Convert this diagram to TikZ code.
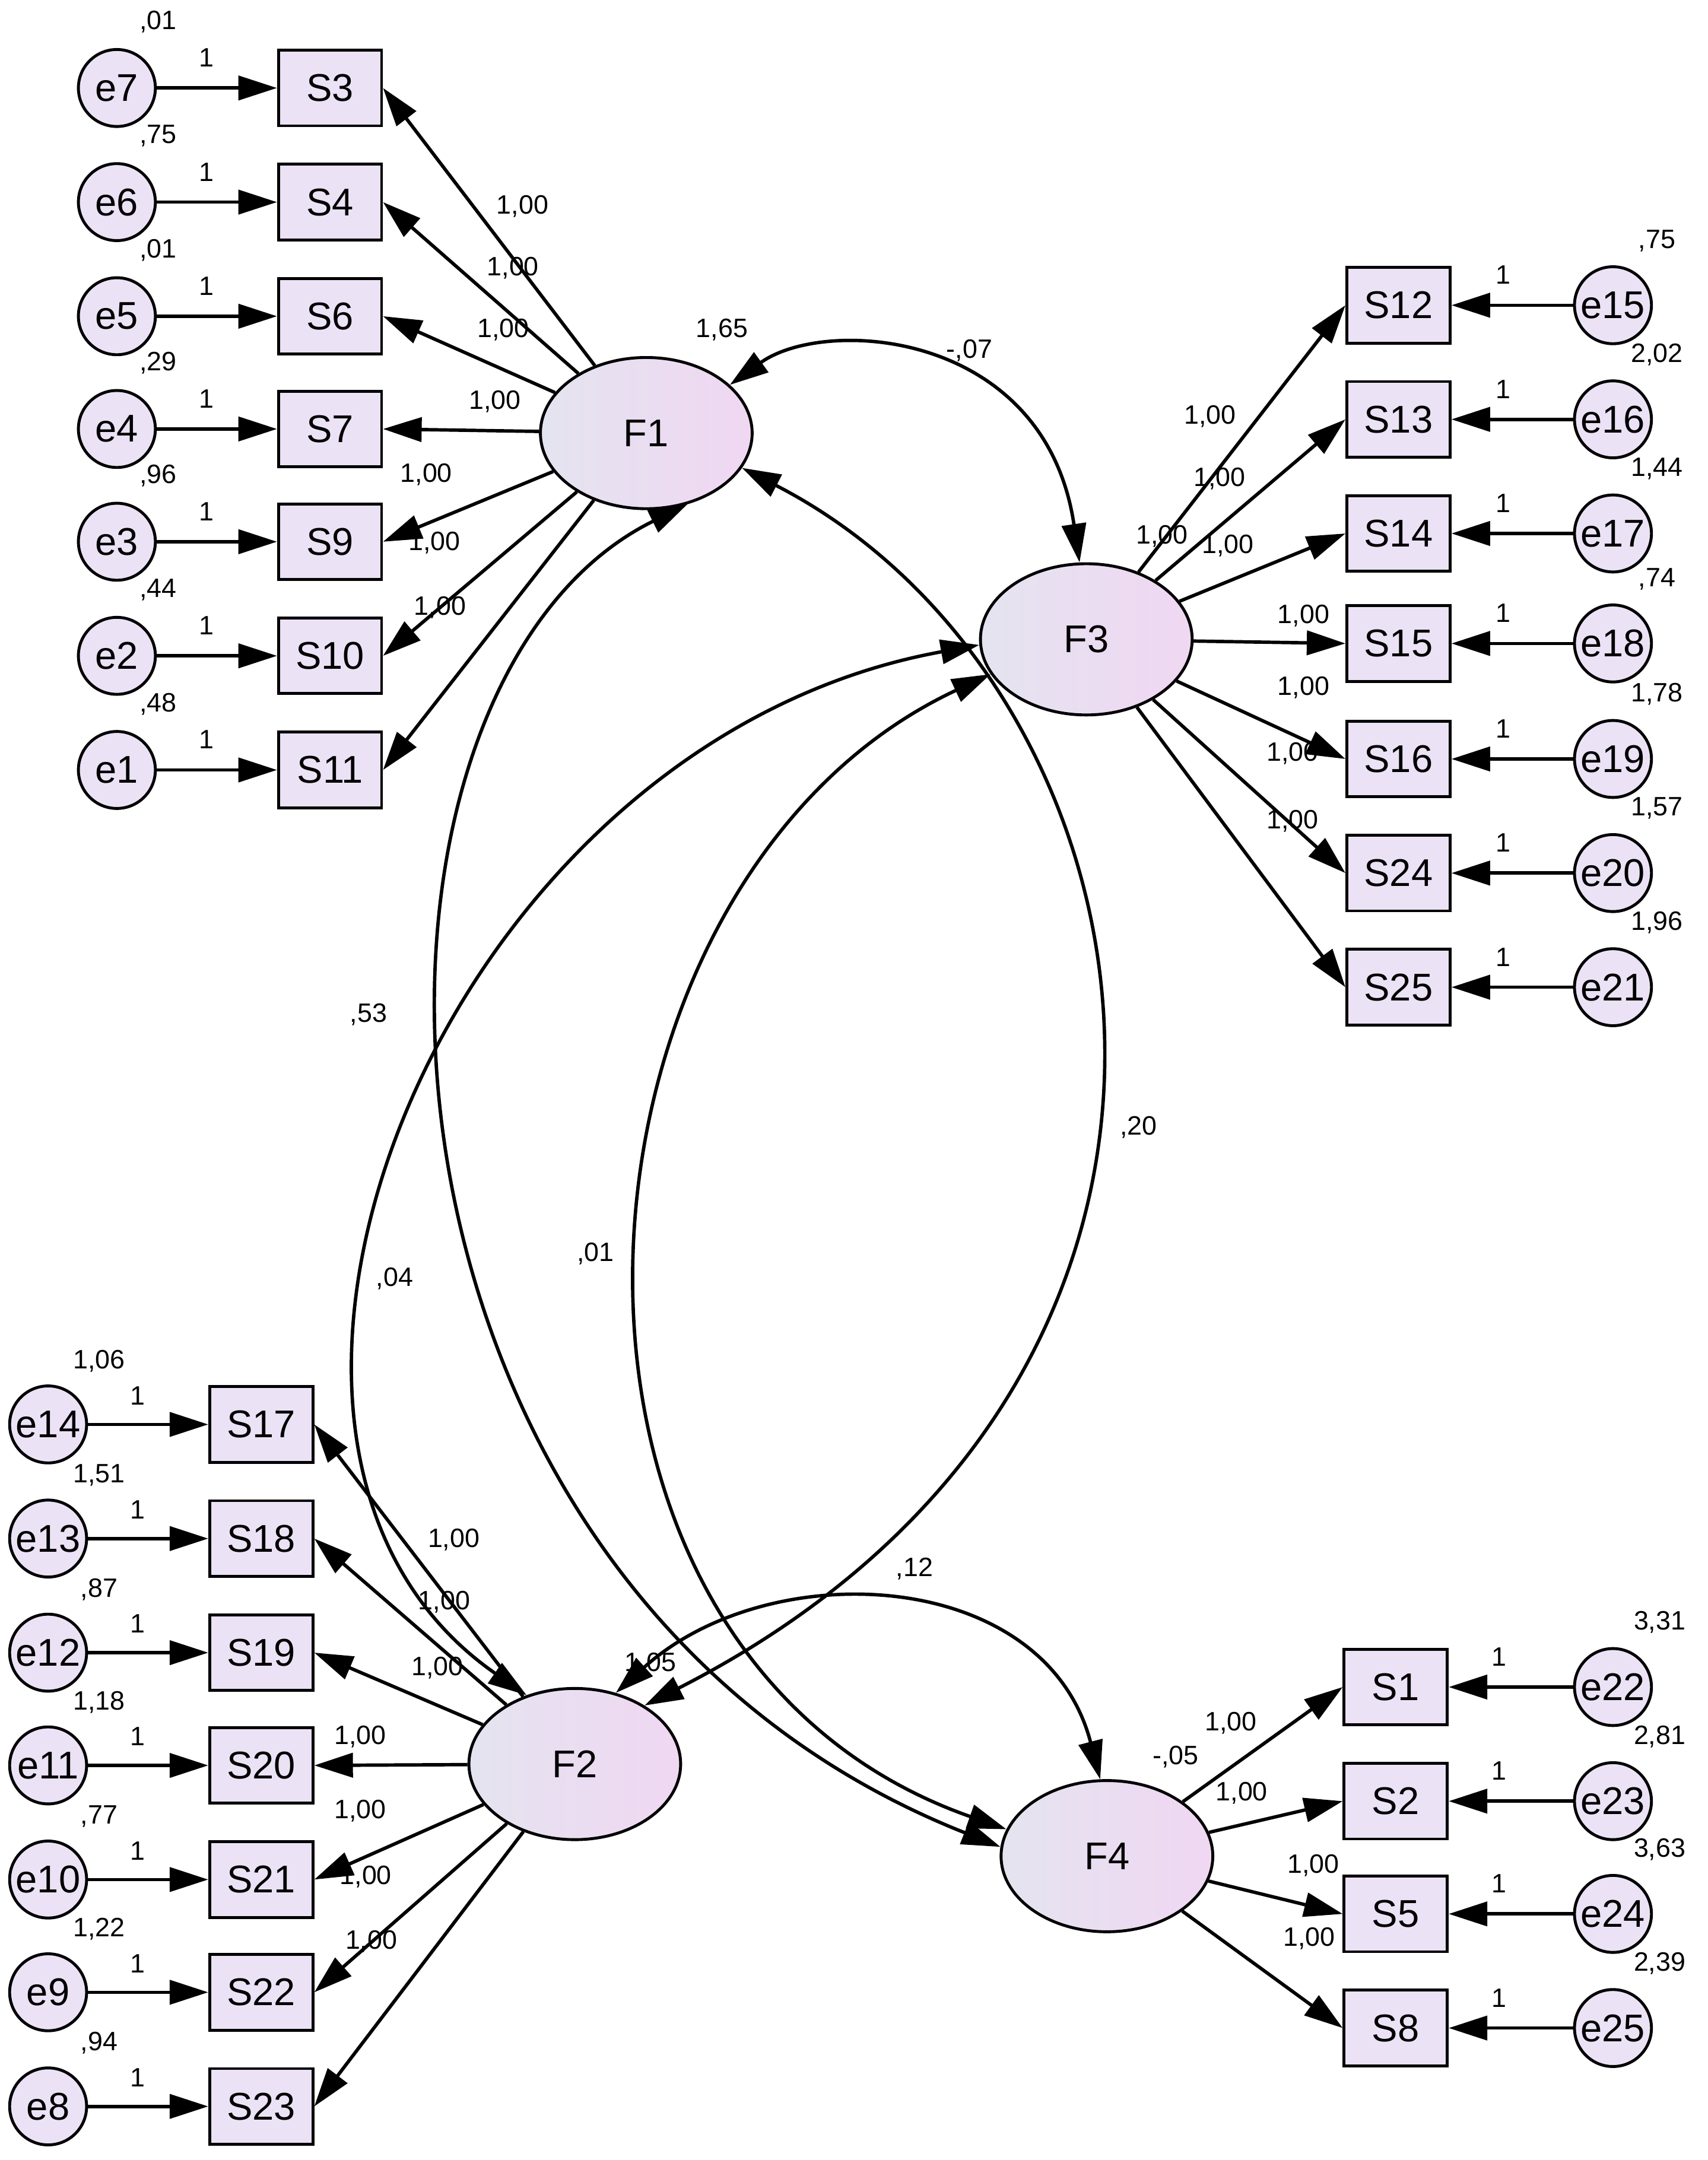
\documentclass[tikz,border=0pt]{standalone}
\usepackage{fontspec}
\setmainfont{Liberation Sans}
\usetikzlibrary{arrows.meta,shapes.geometric}
\begin{document}
\begin{tikzpicture}[x=0.02cm,y=-0.02cm,
  fillc/.style={fill={rgb,255:red,236;green,226;blue,246}},
  obs/.style={draw,line width=1.2pt,fillc,minimum width=1.5cm,minimum height=1.1cm,inner sep=0pt,font=\fontsize{16}{16}\selectfont},
  err/.style={draw,line width=1.2pt,circle,fillc,minimum size=1.12cm,inner sep=0pt,font=\fontsize{16}{16}\selectfont},
  lat/.style={draw,line width=1.2pt,ellipse,left color={rgb,255:red,228;green,228;blue,240},right color={rgb,255:red,240;green,215;blue,242},minimum width=3.08cm,minimum height=2.2cm,font=\fontsize{16}{16}\selectfont},
  lab/.style={font=\fontsize{11}{11}\selectfont,inner sep=0pt},
  arr/.style={line width=1.4pt,-{Triangle[length=16pt,width=10pt]}},
  cov/.style={line width=1.4pt,{Triangle[length=16pt,width=10pt]}-{Triangle[length=16pt,width=10pt]}}]
\useasboundingbox[fill=white] (0,0) rectangle (1242,1571);
\node[lat] (F1) at (470,315) {F1};
\node[lat] (F3) at (790,465) {F3};
\node[lat] (F2) at (418,1283) {F2};
\node[lat] (F4) at (805,1350) {F4};
% top-left
\foreach \e/\s/\y/\v in {e7/S3/64/{,01},e6/S4/147/{,75},e5/S6/230/{,01},e4/S7/312/{,29},e3/S9/394/{,96},e2/S10/477/{,44},e1/S11/560/{,48}}{
  \node[err] (\e) at (85,\y) {\e};
  \node[obs] (\s) at (240,\y) {\s};
  \draw[arr] (\e) -- (\s);
  \draw[arr] (F1) -- (\s.east);
  \node[lab] at (115,\y-48) {\v};
  \node[lab] at (150,\y-22) {1};
}
\foreach \x/\y in {380/150,373/195,366/240,360/292,310/345,316/395,320/442}
  \node[lab] at (\x,\y) {1,00};
% right top
\foreach \e/\s/\y/\v in {e15/S12/222/{,75},e16/S13/305/{2,02},e17/S14/388/{1,44},e18/S15/468/{,74},e19/S16/552/{1,78},e20/S24/635/{1,57},e21/S25/718/{1,96}}{
  \node[err] (\e) at (1173,\y) {\e};
  \node[obs] (\s) at (1017,\y) {\s};
  \draw[arr] (\e) -- (\s);
  \draw[arr] (F3) -- (\s.west);
  \node[lab] at (1205,\y-47) {\v};
  \node[lab] at (1093,\y-22) {1};
}
\foreach \x/\y in {880/303,887/348,893/397,948/448,948/500,940/548,940/597,845/390}
  \node[lab] at (\x,\y) {1,00};
% bottom-left
\foreach \e/\s/\y/\v in {e14/S17/1036/{1,06},e13/S18/1119/{1,51},e12/S19/1202/{,87},e11/S20/1284/{1,18},e10/S21/1367/{,77},e9/S22/1449/{1,22},e8/S23/1532/{,94}}{
  \node[err] (\e) at (35,\y) {\e};
  \node[obs] (\s) at (190,\y) {\s};
  \draw[arr] (\e) -- (\s);
  \draw[arr] (F2) -- (\s.east);
  \node[lab] at (72,\y-46) {\v};
  \node[lab] at (100,\y-21) {1};
}
\foreach \x/\y in {330/1120,323/1165,318/1213,262/1263,262/1317,266/1365,270/1412}
  \node[lab] at (\x,\y) {1,00};
% bottom-right
\foreach \e/\s/\y/\v in {e22/S1/1227/{3,31},e23/S2/1310/{2,81},e24/S5/1392/{3,63},e25/S8/1475/{2,39}}{
  \node[err] (\e) at (1173,\y) {\e};
  \node[obs] (\s) at (1015,\y) {\s};
  \draw[arr] (\e) -- (\s);
  \draw[arr] (F4) -- (\s.west);
  \node[lab] at (1207,\y-47) {\v};
  \node[lab] at (1090,\y-22) {1};
}
\foreach \x/\y in {895/1253,903/1304,955/1357,952/1410}
  \node[lab] at (\x,\y) {1,00};
% variances
\node[lab] at (525,240) {1,65};
\node[lab] at (473,1210) {1,05};
\node[lab] at (855,1278) {-,05};
% covariances
\draw[cov] (F1.30) .. controls (600,230) and (760,240) .. (F3.95);
\draw[cov] (F2.60) .. controls (560,1130) and (760,1140) .. (F4.95);
\draw[cov] (F3.183) .. controls (320,540) and (120,1050) .. (F2.125);
\draw[cov] (F1.-60) .. controls (230,500) and (240,1150) .. (F4.175);
\draw[cov] (F3.200) .. controls (400,640) and (360,1200) .. (F4.165);
\draw[cov] (F1.-20) .. controls (850,500) and (940,1000) .. (F2.40);
\node[lab] at (705,255) {-,07};
\node[lab] at (665,1141) {,12};
\node[lab] at (268,738) {,53};
\node[lab] at (287,930) {,04};
\node[lab] at (433,912) {,01};
\node[lab] at (828,820) {,20};
\end{tikzpicture}
\end{document}
